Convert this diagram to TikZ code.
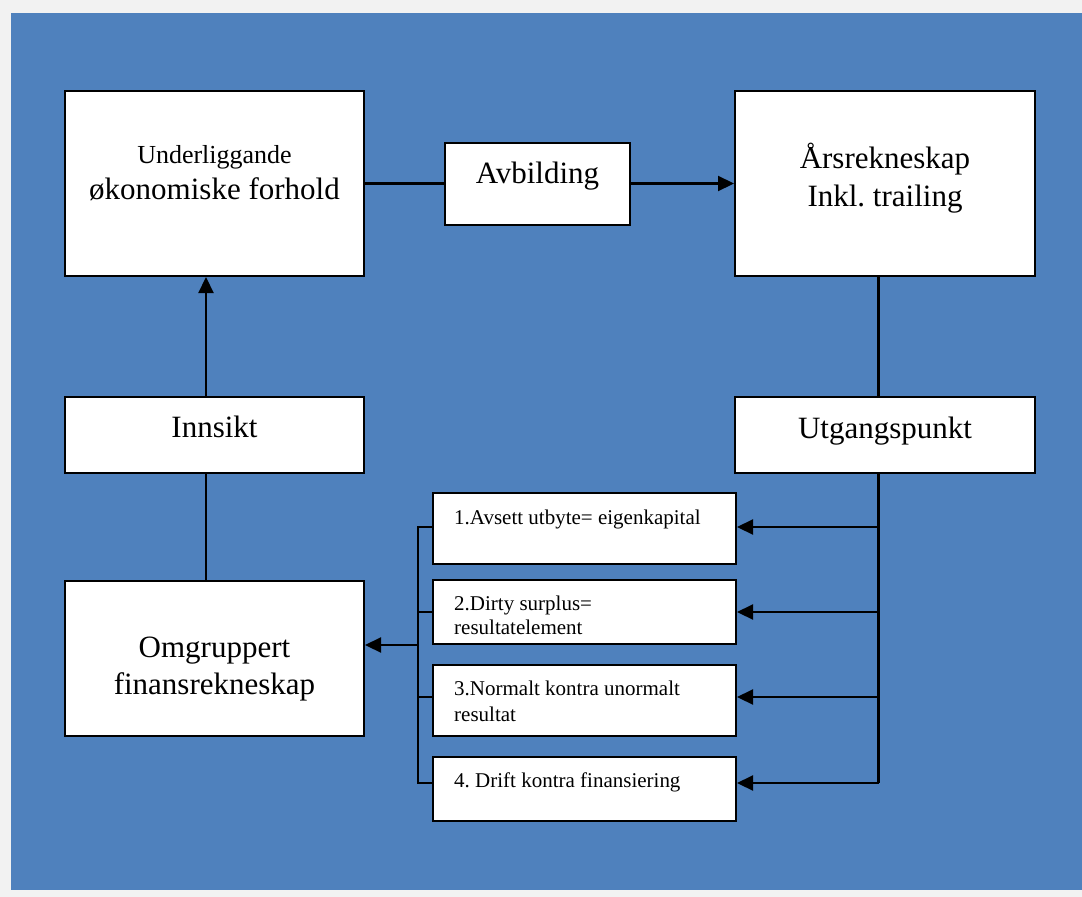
\documentclass[tikz,border=0pt]{standalone}
\usepackage{fontspec}
\setmainfont{Liberation Serif}
\usetikzlibrary{arrows.meta}

\definecolor{panelblue}{RGB}{79,129,189}
\definecolor{framegrey}{RGB}{242,242,242}

\tikzset{
  box/.style={draw=black, fill=white, line width=2pt, inner sep=0pt},
  conn/.style={draw=black, line width=2.2pt},
  arr/.style={conn, -{Triangle[length=16pt,width=15pt]}},
  bigtxt/.style={inner sep=0pt, anchor=base, font=\fontsize{31}{37}\selectfont},
  midtxt/.style={inner sep=0pt, anchor=base, font=\fontsize{26}{31}\selectfont},
  smalltxt/.style={inner sep=0pt, anchor=base west, font=\fontsize{21}{25}\selectfont},
}

\begin{document}
\begin{tikzpicture}[x=1pt, y=-1pt]
  \useasboundingbox (0,0) rectangle (1082,897);
  % frame and blue panel
  \fill[framegrey] (0,0) rectangle (1082,897);
  \fill[panelblue] (11,13) rectangle (1082,890);

  % main boxes
  \node[box, minimum width=299pt, minimum height=185pt] (under) at (214.5,183.5) {};
  \node[box, minimum width=185pt, minimum height=82pt]  (avb)   at (537.5,183.5) {};
  \node[box, minimum width=300pt, minimum height=185pt] (aars)  at (885,183.5) {};
  \node[box, minimum width=299pt, minimum height=76pt]  (inns)  at (214.5,435) {};
  \node[box, minimum width=300pt, minimum height=76pt]  (utg)   at (885,435) {};
  \node[box, minimum width=299pt, minimum height=155pt] (omg)   at (214.5,658.5) {};

  % numbered boxes
  \node[box, minimum width=303pt, minimum height=71pt] (b1) at (584.5,528.5) {};
  \node[box, minimum width=303pt, minimum height=64pt] (b2) at (584.5,612) {};
  \node[box, minimum width=303pt, minimum height=71pt] (b3) at (584.5,700.5) {};
  \node[box, minimum width=303pt, minimum height=64pt] (b4) at (584.5,789) {};

  % texts
  \node[midtxt] (t-under1) at (214.5,163) {Underliggande};
  \node[bigtxt] (t-under2) at (214.5,199) {økonomiske forhold};
  \node[bigtxt] (t-avb)    at (537.5,183) {Avbilding};
  \node[bigtxt] (t-aars1)  at (885,168) {Årsrekneskap};
  \node[bigtxt] (t-aars2)  at (885,206) {Inkl.\ trailing};
  \node[bigtxt] (t-inns)   at (214.5,437) {Innsikt};
  \node[bigtxt] (t-utg)    at (885,438) {Utgangspunkt};
  \node[bigtxt] (t-omg1)   at (214.5,657) {Omgruppert};
  \node[bigtxt] (t-omg2)   at (214.5,694) {finansrekneskap};

  \node[smalltxt] (t-b1)  at (454,524) {1.Avsett utbyte= eigenkapital};
  \node[smalltxt] (t-b2a) at (454,610) {2.Dirty surplus=};
  \node[smalltxt] (t-b2b) at (454,634) {resultatelement};
  \node[smalltxt] (t-b3a) at (454,695) {3.Normalt kontra unormalt};
  \node[smalltxt] (t-b3b) at (454,721) {resultat};
  \node[smalltxt] (t-b4)  at (454,787) {4.\ Drift kontra finansiering};

  % column and bus positions
  \coordinate (lcol) at (206,0);
  \coordinate (rbus) at (878.5,0);
  \coordinate (lbus) at (418,0);

  % top row
  \draw[conn] (under.east) -- (avb.west);
  \draw[arr]  (avb.east) -- (aars.west);

  % left column
  \draw[arr]  (inns.north -| lcol) -- (under.south -| lcol);
  \draw[conn] (omg.north -| lcol) -- (inns.south -| lcol);

  % right column and distribution to the numbered boxes
  \draw[conn] (aars.south -| rbus) -- (utg.north -| rbus);
  \draw[conn] (utg.south -| rbus) -- ([yshift=6pt]b4.east -| rbus);
  \draw[arr]  ([yshift=1.5pt]b1.east -| rbus) -- ([yshift=1.5pt]b1.east);
  \draw[arr]  (b2.east -| rbus) -- (b2.east);
  \draw[arr]  ([yshift=3.5pt]b3.east -| rbus) -- ([yshift=3.5pt]b3.east);
  \draw[arr]  ([yshift=6pt]b4.east -| rbus) -- ([yshift=6pt]b4.east);

  % collecting bus on the left
  \draw[conn] ([yshift=1.5pt]b1.west) -- ([yshift=1.5pt]b1.west -| lbus)
              -- ([yshift=6pt]b4.west -| lbus) -- ([yshift=6pt]b4.west);
  \draw[conn] (b2.west) -- (b2.west -| lbus);
  \draw[conn] ([yshift=3.5pt]b3.west) -- ([yshift=3.5pt]b3.west -| lbus);
  \draw[arr]  ([yshift=13.5pt]omg.east -| lbus) -- ([yshift=13.5pt]omg.east);
\end{tikzpicture}
\end{document}
